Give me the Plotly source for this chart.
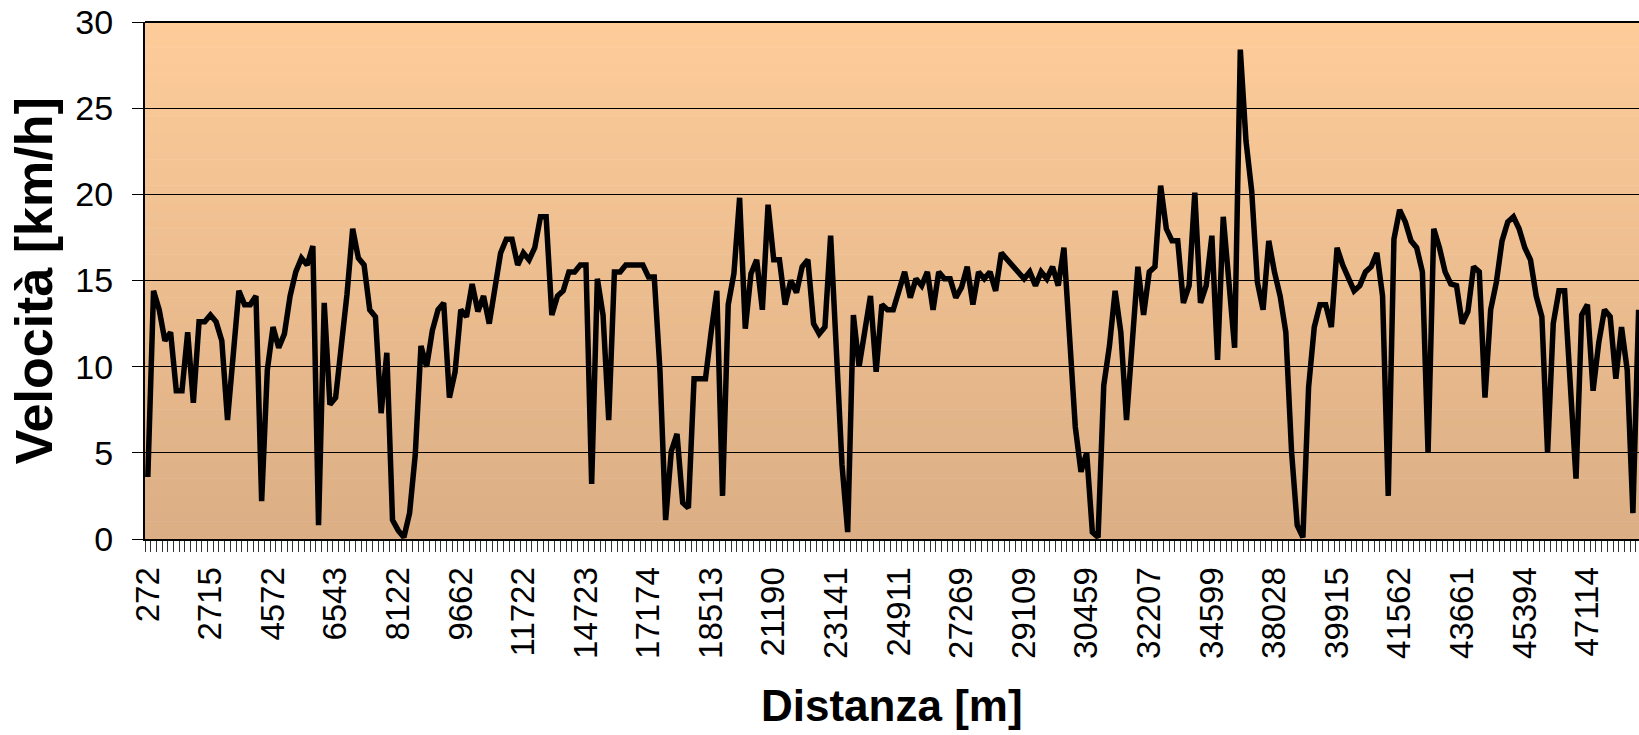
import plotly.graph_objects as go

# Speed [km/h] for each measurement point (category index along the route)
speed = [
    3.6, 14.4, 13.3, 11.5, 12.0, 8.6, 8.6, 12.0, 7.9, 12.6,
    12.6, 13.0, 12.6, 11.5, 6.9, 10.8, 14.4, 13.6, 13.6, 14.1,
    2.2, 9.8, 12.3, 11.1, 11.9, 14.1, 15.5, 16.3, 15.9, 17.0,
    0.8, 13.7, 7.8, 8.2, 11.2, 14.2, 18.0, 16.3, 15.9, 13.3,
    12.9, 7.3, 10.8, 1.1, 0.5, 0.1, 1.5, 4.9, 11.2, 10.0,
    12.1, 13.3, 13.7, 8.2, 9.7, 13.3, 12.9, 14.8, 13.2, 14.1,
    12.5, 14.5, 16.6, 17.4, 17.4, 15.9,
    16.6, 16.2, 16.9, 18.7, 18.7, 13.0, 14.1, 14.4, 15.5, 15.5,
    15.9, 15.9, 3.2, 15.1, 13.0, 6.9, 15.5, 15.5, 15.9, 15.9,
    15.9, 15.9, 15.2, 15.2, 9.8, 1.1, 5.1, 6.1, 2.1, 1.8,
    9.3, 9.3, 9.3, 12.0, 14.4, 2.5, 13.6, 15.4, 19.8, 12.2,
    15.4, 16.2, 13.3, 19.4, 16.2, 16.2, 13.6, 15.0, 14.3, 15.8,
    16.2, 12.5, 11.9, 12.3, 17.6, 11.0, 4.3, 0.4, 13.0, 10.0,
    12.0, 14.1, 9.7, 13.6, 13.3,
    13.3, 14.4, 15.5, 14.0, 15.1, 14.7, 15.5, 13.3, 15.5, 15.1,
    15.1, 14.0, 14.6, 15.8, 13.6, 15.5, 15.1, 15.5, 14.4, 16.6,
    16.2, 15.9, 15.5, 15.1, 15.5, 14.7, 15.5, 15.1, 15.8, 14.7,
    16.9, 11.6, 6.5, 3.9, 5.0, 0.4, 0.1, 8.9, 11.2, 14.4,
    12.0, 6.9, 11.4, 15.8, 13.0, 15.5, 15.8, 20.5, 18.0, 17.3,
    17.3, 13.7, 14.7, 20.1, 13.7, 14.7, 17.6, 10.4, 18.7, 14.5,
    11.1, 28.4, 23.1, 20.2, 14.9,
    13.3, 17.3, 15.5, 14.1, 12.0, 5.1, 0.8, 0.1, 8.8, 12.3,
    13.6, 13.6, 12.3, 16.9, 15.9, 15.1, 14.4, 14.7, 15.5, 15.8,
    16.6, 14.1, 2.5, 17.4, 19.1, 18.4, 17.3, 16.9, 15.5, 5.0,
    18.0, 16.9, 15.5, 14.8, 14.7, 12.5, 13.2, 15.8, 15.5, 8.2,
    13.3, 14.9, 17.3, 18.4, 18.7, 18.0, 16.9, 16.2, 14.1, 12.9,
    5.0, 12.5, 14.4, 14.4, 9.0, 3.5, 13.0, 13.6, 8.6, 11.4,
    13.3, 12.9, 9.3, 12.3, 9.8, 1.5, 13.3,
]

# Distance labels shown on the category axis (one every 11 points)
tick_labels = [
    "272", "2715", "4572", "6543", "8122", "9662", "11722", "14723",
    "17174", "18513", "21190", "23141", "24911", "27269", "29109", "30459",
    "32207", "34599", "38028", "39915", "41562", "43661", "45394", "47114",
]
label_step = 11
y_ticks = [0, 5, 10, 15, 20, 25, 30]

n = len(speed)
x = list(range(n))
tickvals = [i * label_step for i in range(len(tick_labels))]
boundaries = [i - 0.5 for i in range(n + 1)]

fig = go.Figure()
fig.add_trace(go.Scatter(
    x=x, y=speed, mode="lines",
    line=dict(color="black", width=5.5),
    hoverinfo="skip", showlegend=False,
))

# vertical gradient background of plot area
top = (253, 204, 153)
bot = (219, 174, 133)
steps = 60
shapes = []
for k in range(steps):
    t = k / (steps - 1)
    c = tuple(round(bot[j] + (top[j] - bot[j]) * t) for j in range(3))
    shapes.append(dict(
        type="rect", xref="paper", yref="paper",
        x0=0, x1=1, y0=k / steps, y1=(k + 1) / steps + 0.001,
        fillcolor="rgb(%d,%d,%d)" % c, line=dict(width=0), layer="below",
    ))
shapes.append(dict(type="line", xref="paper", yref="paper", x0=0, x1=1, y0=1, y1=1,
                   line=dict(color="black", width=2)))
fig.update_layout(shapes=shapes)

font = "Liberation Sans, Arial, sans-serif"
fig.update_layout(
    width=1639, height=735,
    margin=dict(l=145, r=0, t=22, b=196),
    paper_bgcolor="white", plot_bgcolor="white",
    font=dict(family=font, color="black"),
    xaxis=dict(
        range=[-0.5, n - 0.93], automargin=False,
        tickmode="array", tickvals=tickvals, ticktext=tick_labels,
        tickangle=-90, tickfont=dict(size=33, family=font, color="black"),
        ticks="", showgrid=False, zeroline=False,
        showline=True, linecolor="black", linewidth=2,
        minor=dict(tickmode="array", tickvals=boundaries, ticks="outside",
                   ticklen=11, tickcolor="#333", tickwidth=1, showgrid=False),
        ticklabelstandoff=13,
    ),
    yaxis=dict(
        range=[0, 30], tickmode="array", tickvals=y_ticks, automargin=False,
        tickfont=dict(size=34, family=font, color="black"),
        ticks="outside", ticklen=11, tickcolor="black", tickwidth=1,
        showgrid=True, gridcolor="black", gridwidth=1,
        zeroline=False, showline=True, linecolor="black", linewidth=2,
        ticklabelstandoff=12,
    ),
    annotations=[
        dict(text="<b>Distanza [m]</b>", xref="paper", yref="paper",
             x=0.5, y=-0.322, xanchor="center", yanchor="middle",
             showarrow=False, font=dict(size=44, family=font, color="black")),
        dict(text="<b>Velocità [km/h]</b>", xref="paper", yref="paper",
             x=-0.0745, y=0.5, xanchor="center", yanchor="middle", textangle=-90,
             showarrow=False, font=dict(size=52, family=font, color="black")),
    ],
)

fig.write_html("out.html", config={"displayModeBar": False},
               post_script="document.body.style.margin='0';document.body.style.overflow='hidden';")
